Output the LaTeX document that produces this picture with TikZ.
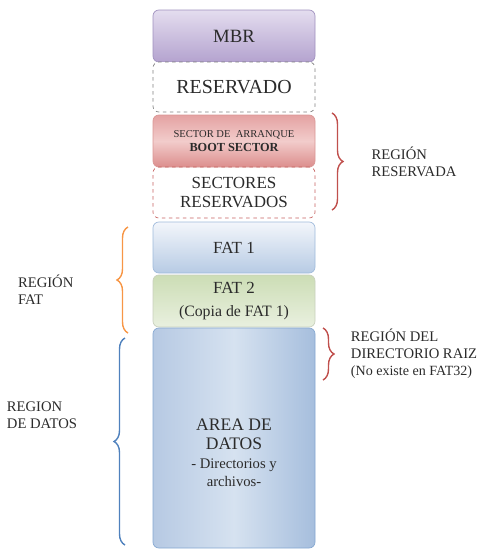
\documentclass[tikz,border=0pt]{standalone}
\usepackage{fontspec}
\setmainfont{Liberation Serif}
\usepackage{xcolor}
\usetikzlibrary{positioning, decorations.pathreplacing}
\definecolor{mbrtop}{HTML}{E4DDEF}
\definecolor{mbrbot}{HTML}{B4A3CF}
\definecolor{mbrline}{HTML}{9F90BE}
\definecolor{boottop}{HTML}{E4A2A2}
\definecolor{bootmid}{HTML}{F2CCCB}
\definecolor{bootbot}{HTML}{DC8E8D}
\definecolor{fatatop}{HTML}{F3F6FB}
\definecolor{fatabot}{HTML}{B7CBE4}
\definecolor{fatbtop}{HTML}{CCDDB5}
\definecolor{fatbbot}{HTML}{E9F0DF}
\definecolor{datleft}{HTML}{B6C9E3}
\definecolor{datmid}{HTML}{D6E2F0}
\definecolor{datright}{HTML}{A6BEDD}
\definecolor{offred}{HTML}{C0504D}
\definecolor{offorange}{HTML}{F79646}
\definecolor{offblue}{HTML}{4F81BD}
\definecolor{inktext}{HTML}{2B2B2B}
\newcommand{\fs}[2]{\fontsize{#1}{#2}\selectfont}

\begin{document}
\begin{tikzpicture}[
  node distance=0cm,
  every node/.style={text=inktext},
  part/.style={rectangle, rounded corners=5pt, minimum width=4.86cm,
    align=center, outer sep=0pt, line width=0.6pt},
  mbrpart/.style={part, draw=mbrline, top color=mbrtop, bottom color=mbrbot,
    minimum height=1.56cm, font=\fs{16}{18}},
  resvpart/.style={part, draw=black!50, dashed, fill=white,
    minimum height=1.5cm, font=\fs{17}{19}},
  bootpart/.style={part, draw=offred!60, top color=boottop, bottom color=bootbot,
    middle color=bootmid, minimum height=1.56cm},
  sectpart/.style={part, draw=offred!90, dashed,
    minimum height=1.53cm, font=\fs{14.5}{17}},
  fatapart/.style={part, draw=offblue!55, top color=fatatop, bottom color=fatabot,
    minimum height=1.53cm, font=\fs{14.5}{16}},
  fatbpart/.style={part, draw=fatbtop!80!black!60, top color=fatbtop, bottom color=fatbbot,
    minimum height=1.56cm, font=\fs{14.5}{16}},
  datpart/.style={part, draw=offblue!70, left color=datleft, right color=datright,
    middle color=datmid, minimum height=6.6cm},
  regbrace/.style={decorate, decoration={brace, amplitude=0.33cm}, line width=1.2pt},
  reglabel/.style={font=\fs{12.5}{14.5}, align=left}
]
  \useasboundingbox (0,0) rectangle (14.61,-16.56);

  \node[mbrpart] (mbr) at (7.02,-1.08) {MBR};
  \node[resvpart, below=of mbr] (resv) {RESERVADO};
  \node[bootpart, below=0.09cm of resv] (boot)
    {\fs{9}{11}SECTOR DE~~ARRANQUE\\\fs{10.5}{12}\bfseries BOOT SECTOR};
  \node[sectpart, below=of boot] (sect) {SECTORES\\RESERVADOS};
  \node[fatapart, below=0.12cm of sect] (fata) {FAT 1};
  \node[fatbpart, below=0.06cm of fata] (fatb)
    {FAT 2\\[3pt]\fs{13.5}{16}(Copia de FAT 1)};
  \node[datpart, below=0.03cm of fatb] (datos) {};
  \node[align=center, font=\fs{15}{16}] (datostxt) at ([yshift=-0.45cm]datos.center)
    {AREA DE\\DATOS\\\fs{12.5}{13.5}- Directorios y\\\fs{12.5}{13.5}archivos-};

  \draw[regbrace, offred] ([xshift=0.51cm, yshift=0.06cm]boot.north east)
    -- ([xshift=0.51cm, yshift=0.24cm]sect.south east)
    node[midway, right=1.05cm, reglabel] (regres) {REGIÓN\\RESERVADA};
  \draw[regbrace, offred] ([xshift=0.24cm]datos.north east)
    -- ([xshift=0.24cm, yshift=-1.56cm]datos.north east)
    node[midway, right=0.7cm, reglabel] (regdir)
    {REGIÓN DEL\\DIRECTORIO RAIZ\\\fs{12}{14}(No existe en FAT32)};
  \draw[regbrace, offorange] ([xshift=-0.75cm, yshift=-0.18cm]fatb.south west)
    -- ([xshift=-0.75cm, yshift=-0.15cm]fata.north west)
    node[midway, left=1.5cm, reglabel, yshift=-0.3cm] (regfat) {REGIÓN\\FAT};
  \draw[regbrace, offblue] ([xshift=-0.84cm, yshift=0.09cm]datos.south west)
    -- ([xshift=-0.84cm, yshift=-0.3cm]datos.north west)
    node[midway, left=1.3cm, reglabel, yshift=0.8cm] (regdat) {REGION\\DE DATOS};
\end{tikzpicture}
\end{document}
